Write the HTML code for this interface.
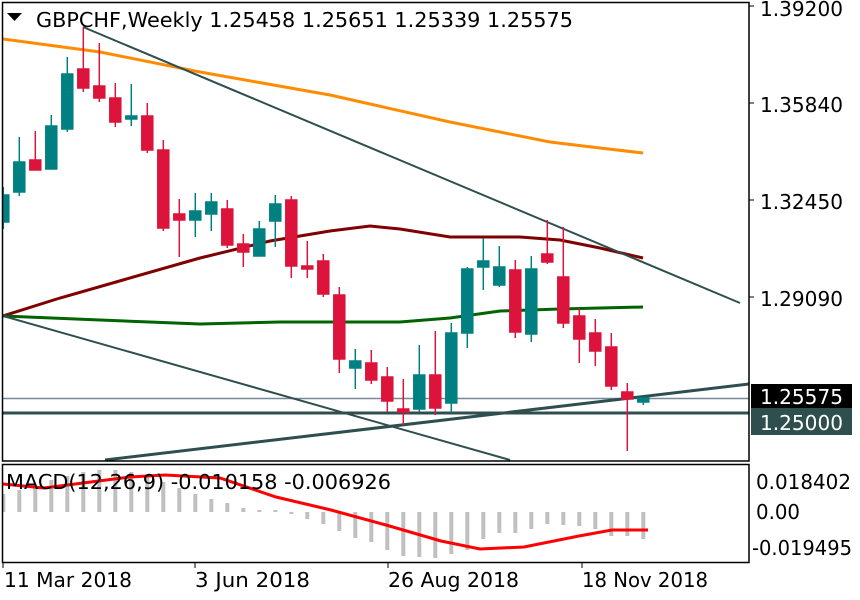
<!DOCTYPE html>
<html><head><meta charset="utf-8"><style>
html,body{margin:0;padding:0;background:#fff}
svg{display:block}
text{font-family:"DejaVu Sans","Liberation Sans",sans-serif}
</style></head><body>
<svg width="860" height="600" viewBox="0 0 860 600" xmlns="http://www.w3.org/2000/svg">
<rect width="860" height="600" fill="#fff"/>
<defs><clipPath id="m"><rect x="3" y="3" width="746" height="458"/></clipPath>
<clipPath id="d"><rect x="3" y="465" width="746" height="97"/></clipPath></defs>
<g clip-path="url(#m)">
<line x1="3" y1="398.5" x2="749" y2="398.5" stroke="#778899" stroke-width="1.5"/>
<line x1="3" y1="413" x2="749" y2="413" stroke="#2f4f4f" stroke-width="3"/>
<polyline fill="none" stroke="#ff8c00" stroke-width="3" points="3,39 100,52 200,72 330,95 450,122 550,142 600,148 643,153"/>
<polyline fill="none" stroke="#800000" stroke-width="3" points="3,316 60,298 123,280 200,258 270,241 330,231 370,226 400,229 450,237 520,237 560,240 600,248 643,258"/>
<polyline fill="none" stroke="#006400" stroke-width="3" points="3,316 100,320 200,324 280,322 400,322 450,318 500,311 560,309 643,307"/>
<line x1="83" y1="27" x2="740" y2="303" stroke="#2f4f4f" stroke-width="2"/>
<line x1="3" y1="316" x2="510" y2="460" stroke="#2f4f4f" stroke-width="2"/>
<line x1="105" y1="460" x2="749" y2="384" stroke="#2f4f4f" stroke-width="3"/>
<g stroke-width="1.5">
<g stroke="#008080" fill="#008080">
<line x1="3.3" y1="187" x2="3.3" y2="229"/><rect x="-2.2" y="195" width="11" height="27"/>
<line x1="19.3" y1="137" x2="19.3" y2="196"/><rect x="13.8" y="162" width="11" height="30"/>
<line x1="51.3" y1="115" x2="51.3" y2="169"/><rect x="45.8" y="126" width="11" height="43"/>
<line x1="67.3" y1="57" x2="67.3" y2="132"/><rect x="61.8" y="74" width="11" height="55"/>
<line x1="131.3" y1="84" x2="131.3" y2="126"/><rect x="125.8" y="116" width="11" height="3"/>
<line x1="195.3" y1="193" x2="195.3" y2="237"/><rect x="189.8" y="211" width="11" height="9"/>
<line x1="211.3" y1="193" x2="211.3" y2="231"/><rect x="205.8" y="202" width="11" height="12"/>
<line x1="259.3" y1="221" x2="259.3" y2="256"/><rect x="253.8" y="229" width="11" height="27"/>
<line x1="275.3" y1="195" x2="275.3" y2="247"/><rect x="269.8" y="204" width="11" height="17"/>
<line x1="355.3" y1="349" x2="355.3" y2="389"/><rect x="349.8" y="361" width="11" height="7"/>
<line x1="419.3" y1="345" x2="419.3" y2="412"/><rect x="413.8" y="375" width="11" height="34"/>
<line x1="451.3" y1="323" x2="451.3" y2="413"/><rect x="445.8" y="333" width="11" height="70"/>
<line x1="467.3" y1="267" x2="467.3" y2="348"/><rect x="461.8" y="269" width="11" height="64"/>
<line x1="483.3" y1="238" x2="483.3" y2="290"/><rect x="477.8" y="261" width="11" height="6"/>
<line x1="499.3" y1="246" x2="499.3" y2="287"/><rect x="493.8" y="267" width="11" height="18"/>
<line x1="531.3" y1="256" x2="531.3" y2="342"/><rect x="525.8" y="269" width="11" height="65"/>
<line x1="643.3" y1="397" x2="643.3" y2="405"/><rect x="637.8" y="398" width="11" height="4"/>
</g>
<g stroke="#dc143c" fill="#dc143c">
<line x1="35.3" y1="131" x2="35.3" y2="170"/><rect x="29.8" y="160" width="11" height="10"/>
<line x1="83.3" y1="27" x2="83.3" y2="92"/><rect x="77.8" y="69" width="11" height="19"/>
<line x1="99.3" y1="43" x2="99.3" y2="102"/><rect x="93.8" y="86" width="11" height="12"/>
<line x1="115.3" y1="83" x2="115.3" y2="127"/><rect x="109.8" y="98" width="11" height="24"/>
<line x1="147.3" y1="103" x2="147.3" y2="153"/><rect x="141.8" y="116" width="11" height="34"/>
<line x1="163.3" y1="140" x2="163.3" y2="231"/><rect x="157.8" y="150" width="11" height="78"/>
<line x1="179.3" y1="199" x2="179.3" y2="257"/><rect x="173.8" y="214" width="11" height="6"/>
<line x1="227.3" y1="200" x2="227.3" y2="248"/><rect x="221.8" y="209" width="11" height="36"/>
<line x1="243.3" y1="234" x2="243.3" y2="267"/><rect x="237.8" y="244" width="11" height="8"/>
<line x1="291.3" y1="196" x2="291.3" y2="278"/><rect x="285.8" y="200" width="11" height="66"/>
<line x1="307.3" y1="241" x2="307.3" y2="278"/><rect x="301.8" y="266" width="11" height="3"/>
<line x1="323.3" y1="254" x2="323.3" y2="297"/><rect x="317.8" y="261" width="11" height="33"/>
<line x1="339.3" y1="287" x2="339.3" y2="373"/><rect x="333.8" y="295" width="11" height="64"/>
<line x1="371.3" y1="350" x2="371.3" y2="384"/><rect x="365.8" y="363" width="11" height="17"/>
<line x1="387.3" y1="367" x2="387.3" y2="412"/><rect x="381.8" y="377" width="11" height="24"/>
<line x1="403.3" y1="379" x2="403.3" y2="425"/><rect x="397.8" y="409" width="11" height="3"/>
<line x1="435.3" y1="331" x2="435.3" y2="415"/><rect x="429.8" y="375" width="11" height="33"/>
<line x1="515.3" y1="260" x2="515.3" y2="338"/><rect x="509.8" y="270" width="11" height="62"/>
<line x1="547.3" y1="220" x2="547.3" y2="264"/><rect x="541.8" y="254" width="11" height="8"/>
<line x1="563.3" y1="227" x2="563.3" y2="328"/><rect x="557.8" y="277" width="11" height="46"/>
<line x1="579.3" y1="308" x2="579.3" y2="363"/><rect x="573.8" y="316" width="11" height="23"/>
<line x1="595.3" y1="319" x2="595.3" y2="366"/><rect x="589.8" y="333" width="11" height="18"/>
<line x1="611.3" y1="333" x2="611.3" y2="390"/><rect x="605.8" y="347" width="11" height="39"/>
<line x1="627.3" y1="383" x2="627.3" y2="451"/><rect x="621.8" y="392" width="11" height="7"/>
</g>
</g>
</g>
<g clip-path="url(#d)" fill="#c0c0c0">
<rect x="1.3" y="494" width="4" height="18"/>
<rect x="17.3" y="490" width="4" height="22"/>
<rect x="33.3" y="486" width="4" height="26"/>
<rect x="49.3" y="480" width="4" height="32"/>
<rect x="65.3" y="476" width="4" height="36"/>
<rect x="81.3" y="472" width="4" height="40"/>
<rect x="97.3" y="470" width="4" height="42"/>
<rect x="113.3" y="470" width="4" height="42"/>
<rect x="129.3" y="472" width="4" height="40"/>
<rect x="145.3" y="476" width="4" height="36"/>
<rect x="161.3" y="482" width="4" height="30"/>
<rect x="177.3" y="488" width="4" height="24"/>
<rect x="193.3" y="494" width="4" height="18"/>
<rect x="209.3" y="499" width="4" height="13"/>
<rect x="225.3" y="503" width="4" height="9"/>
<rect x="241.3" y="508" width="4" height="4"/>
<rect x="257.3" y="510" width="4" height="2"/>
<rect x="273.3" y="510" width="4" height="2"/>
<rect x="289.3" y="512" width="4" height="2"/>
<rect x="305.3" y="512" width="4" height="7"/>
<rect x="321.3" y="512" width="4" height="12"/>
<rect x="337.3" y="512" width="4" height="19"/>
<rect x="353.3" y="512" width="4" height="26"/>
<rect x="369.3" y="512" width="4" height="30"/>
<rect x="385.3" y="512" width="4" height="38"/>
<rect x="401.3" y="512" width="4" height="44"/>
<rect x="417.3" y="512" width="4" height="45"/>
<rect x="433.3" y="512" width="4" height="46"/>
<rect x="449.3" y="512" width="4" height="42"/>
<rect x="465.3" y="512" width="4" height="38"/>
<rect x="481.3" y="512" width="4" height="27"/>
<rect x="497.3" y="512" width="4" height="21"/>
<rect x="513.3" y="512" width="4" height="21"/>
<rect x="529.3" y="512" width="4" height="17"/>
<rect x="545.3" y="512" width="4" height="12"/>
<rect x="561.3" y="512" width="4" height="13"/>
<rect x="577.3" y="512" width="4" height="14"/>
<rect x="593.3" y="512" width="4" height="17"/>
<rect x="609.3" y="512" width="4" height="24"/>
<rect x="625.3" y="512" width="4" height="24"/>
<rect x="641.3" y="512" width="4" height="27"/>
</g>
<g clip-path="url(#d)">
<polyline fill="none" stroke="#ff0000" stroke-width="3" points="3,484 44,488 83,483 130,477 165,475 220,478 276,497 331,510 386,525 441,541 480,549 524,547 579,536 612,530 648,530"/>
</g>
<g stroke="#000" stroke-width="1.5" fill="none">
<rect x="2.5" y="2.5" width="746.5" height="458.5"/>
<rect x="2.5" y="464.5" width="746.5" height="98"/>
</g>
<g stroke="#000" stroke-width="1">
<line x1="749" y1="6" x2="754" y2="6"/><line x1="749" y1="103" x2="754" y2="103"/>
<line x1="749" y1="200" x2="754" y2="200"/><line x1="749" y1="297" x2="754" y2="297"/>
<line x1="3" y1="563" x2="3" y2="568"/><line x1="195" y1="563" x2="195" y2="568"/>
<line x1="388" y1="563" x2="388" y2="568"/><line x1="582" y1="563" x2="582" y2="568"/>
</g>
<polygon points="7,13 22,13 14.5,21" fill="#000"/>
<text x="36" y="27" font-size="20" textLength="537" lengthAdjust="spacingAndGlyphs">GBPCHF,Weekly  1.25458 1.25651 1.25339 1.25575</text>
<g font-size="20" fill="#000">
<text x="760" y="16" textLength="83" lengthAdjust="spacingAndGlyphs">1.39200</text>
<text x="760" y="112" textLength="83" lengthAdjust="spacingAndGlyphs">1.35840</text>
<text x="760" y="209" textLength="83" lengthAdjust="spacingAndGlyphs">1.32450</text>
<text x="760" y="306" textLength="83" lengthAdjust="spacingAndGlyphs">1.29090</text>
<rect x="751" y="384" width="101" height="24" fill="#000"/>
<text x="760" y="404" fill="#fff" textLength="83" lengthAdjust="spacingAndGlyphs">1.25575</text>
<rect x="751" y="408" width="101" height="27" fill="#2f4f4f"/>
<text x="760" y="430" fill="#fff" textLength="83" lengthAdjust="spacingAndGlyphs">1.25000</text>
<text x="6" y="489" textLength="385" lengthAdjust="spacingAndGlyphs">MACD(12,26,9) -0.010158 -0.006926</text>
<text x="756" y="489" textLength="95" lengthAdjust="spacingAndGlyphs">0.018402</text>
<text x="756" y="519" textLength="44" lengthAdjust="spacingAndGlyphs">0.00</text>
<text x="752" y="555" textLength="100" lengthAdjust="spacingAndGlyphs">-0.019495</text>
<text x="4" y="587" textLength="128" lengthAdjust="spacingAndGlyphs">11 Mar 2018</text>
<text x="195" y="587" textLength="115" lengthAdjust="spacingAndGlyphs">3 Jun 2018</text>
<text x="388" y="587" textLength="131" lengthAdjust="spacingAndGlyphs">26 Aug 2018</text>
<text x="582" y="587" textLength="126" lengthAdjust="spacingAndGlyphs">18 Nov 2018</text>
</g>
</svg>
</body></html>
